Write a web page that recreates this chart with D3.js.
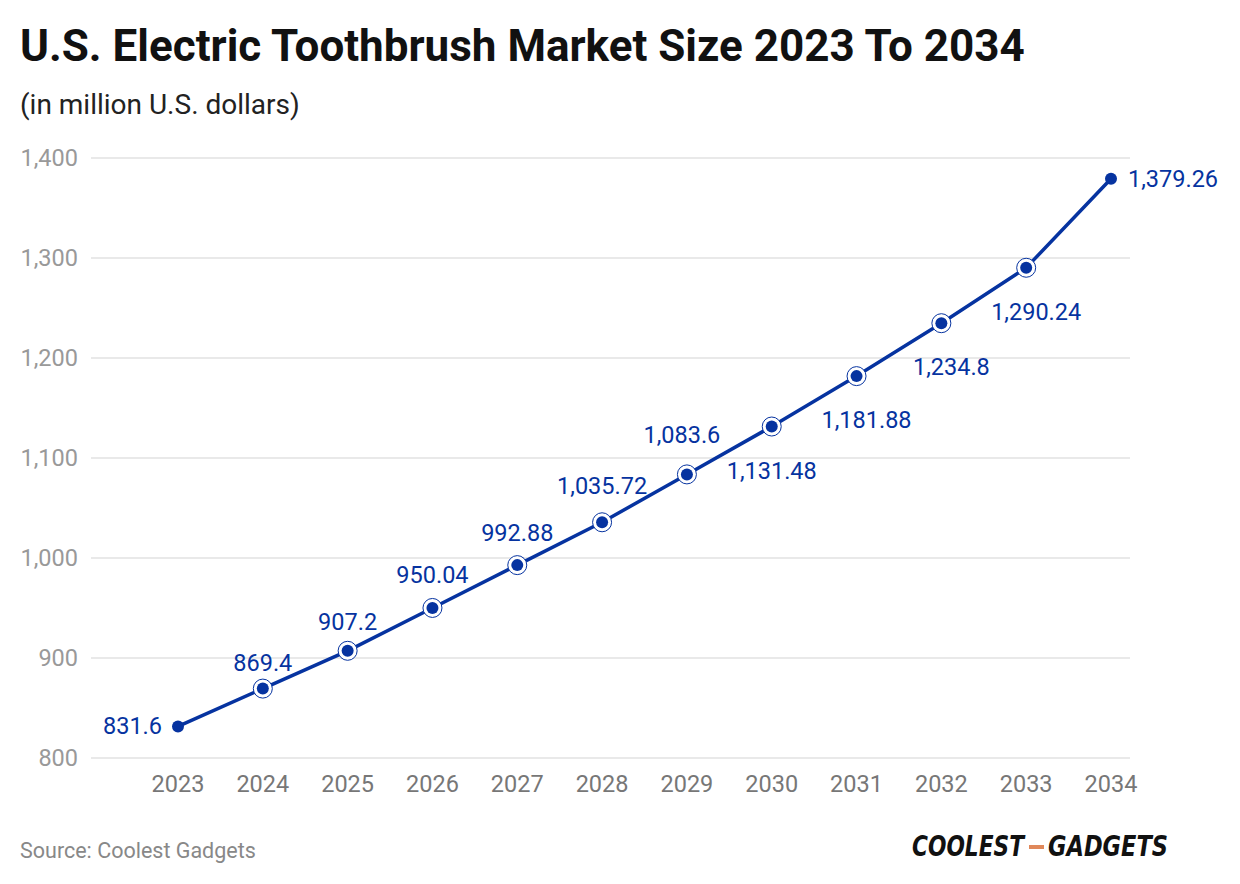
<!DOCTYPE html>
<html>
<head>
<meta charset="utf-8">
<script src="https://cdn.jsdelivr.net/npm/d3@7"></script>
<style>
  body { margin: 0; background: #fff; font-family: Roboto, "Noto Sans", sans-serif; }
</style>
</head>
<body>
<div id="chart"></div>
<script>
// chart data
const years = ["2023", "2024", "2025", "2026", "2027", "2028", "2029", "2030", "2031", "2032", "2033", "2034"];
const values = [831.6, 869.4, 907.2, 950.04, 992.88, 1035.72, 1083.6, 1131.48, 1181.88, 1234.8, 1290.24, 1379.26];
const labels = ["831.6", "869.4", "907.2", "950.04", "992.88", "1,035.72", "1,083.6", "1,131.48", "1,181.88", "1,234.8", "1,290.24", "1,379.26"];
// where each label sits relative to its point
const labelPos = ["left", "above", "above", "above", "above", "above", "above", "below", "below", "below", "below", "right"];
const yTicks = [800, 900, 1000, 1100, 1200, 1300, 1400];

const W = 1240, H = 884;
const blue = "#0633a0";

let svg = d3.select("#chart").append("svg")
  .attr("width", W)
  .attr("height", H);

// title
svg.append("text")
  .attr("x", 20).attr("y", 61)
  .style("font-size", "44px").style("font-weight", "700")
  .style("fill", "#111")
  .text("U.S. Electric Toothbrush Market Size 2023 To 2034");

svg.append("text")
  .attr("x", 20).attr("y", 114)
  .style("font-size", "28px")
  .style("fill", "#222")
  .text("(in million U.S. dollars)");

// scales
let x = d3.scalePoint()
  .domain(years)
  .range([178, 1111]);

let y = d3.scaleLinear()
  .domain([800, 1400])
  .range([758, 158]);

// gridlines
svg.append("g")
  .selectAll("line")
  .data(yTicks)
  .enter().append("line")
    .attr("x1", 91).attr("x2", 1130)
    .attr("y1", d => y(d)).attr("y2", d => y(d))
    .style("stroke", "#e2e2e2")
    .style("stroke-width", 1.5);

// y labels
svg.append("g")
  .selectAll("text")
  .data(yTicks)
  .enter().append("text")
    .attr("x", 78)
    .attr("y", d => y(d) + 8)
    .attr("text-anchor", "end")
    .style("font-size", "23.5px")
    .style("fill", "#999")
    .text(d => d3.format(",")(d));

// x labels
svg.append("g")
  .selectAll("text")
  .data(years)
  .enter().append("text")
    .attr("x", d => x(d))
    .attr("y", 792)
    .attr("text-anchor", "middle")
    .style("font-size", "23.5px")
    .style("fill", "#777")
    .text(d => d);

// line
let line = d3.line()
  .x((d, i) => x(years[i]))
  .y(d => y(d));

svg.append("path")
  .datum(values)
  .attr("d", line)
  .style("fill", "none")
  .style("stroke", blue)
  .style("stroke-width", 3.5);

// rings on the middle points
svg.append("g")
  .selectAll("circle")
  .data(values.slice(1, values.length - 1))
  .enter().append("circle")
    .attr("cx", (d, i) => x(years[i + 1]))
    .attr("cy", d => y(d))
    .attr("r", 9.5)
    .style("fill", "#fff")
    .style("stroke", blue)
    .style("stroke-width", 1);

// dots
svg.append("g")
  .selectAll("circle")
  .data(values)
  .enter().append("circle")
    .attr("cx", (d, i) => x(years[i]))
    .attr("cy", d => y(d))
    .attr("r", 6)
    .style("fill", blue);

// local steepness in pixels per step, used to lift labels clear of the line
function steep(i) {
  let a = Math.max(0, i - 1), b = Math.min(values.length - 1, i + 1);
  return (y(values[a]) - y(values[b])) / (b - a);
}

// value labels
svg.append("g")
  .selectAll("text")
  .data(values)
  .enter().append("text")
    .attr("x", (d, i) => {
      let px = x(years[i]);
      if (labelPos[i] == "left") return px - 16;
      if (labelPos[i] == "right") return px + 17;
      if (labelPos[i] == "below") return i == 7 ? px : px + 10;
      return i == 6 ? px - 5 : px;
    })
    .attr("y", (d, i) => {
      let py = y(d);
      if (labelPos[i] == "above") return py - 17 - Math.max(0, 1.4 * (steep(i) - 37.5));
      if (labelPos[i] == "below") return py + 52;
      return py + 8;
    })
    .attr("text-anchor", (d, i) => {
      if (labelPos[i] == "left") return "end";
      if (labelPos[i] == "right") return "start";
      return "middle";
    })
    .style("font-size", "23.5px")
    .style("fill", blue)
    .text((d, i) => labels[i]);

// footer
svg.append("text")
  .attr("x", 20).attr("y", 858)
  .style("font-size", "21.5px")
  .style("fill", "#888")
  .text("Source: Coolest Gadgets");

let logo = svg.append("g").attr("transform", "translate(912,856)");
logo.append("text")
  .attr("x", 0).attr("y", 0)
  .attr("textLength", 112)
  .attr("lengthAdjust", "spacingAndGlyphs")
  .style("font-family", "'DejaVu Sans'")
  .style("font-size", "28px").style("font-weight", "900")
  .style("font-style", "italic")
  .style("fill", "#111")
  .text("COOLEST");
logo.append("rect")
  .attr("x", 117).attr("y", -11)
  .attr("width", 15).attr("height", 4)
  .style("fill", "#e0885a");
logo.append("text")
  .attr("x", 136).attr("y", 0)
  .attr("textLength", 120)
  .attr("lengthAdjust", "spacingAndGlyphs")
  .style("font-family", "'DejaVu Sans'")
  .style("font-size", "28px").style("font-weight", "900")
  .style("font-style", "italic")
  .style("fill", "#111")
  .text("GADGETS");
</script>
</body>
</html>
